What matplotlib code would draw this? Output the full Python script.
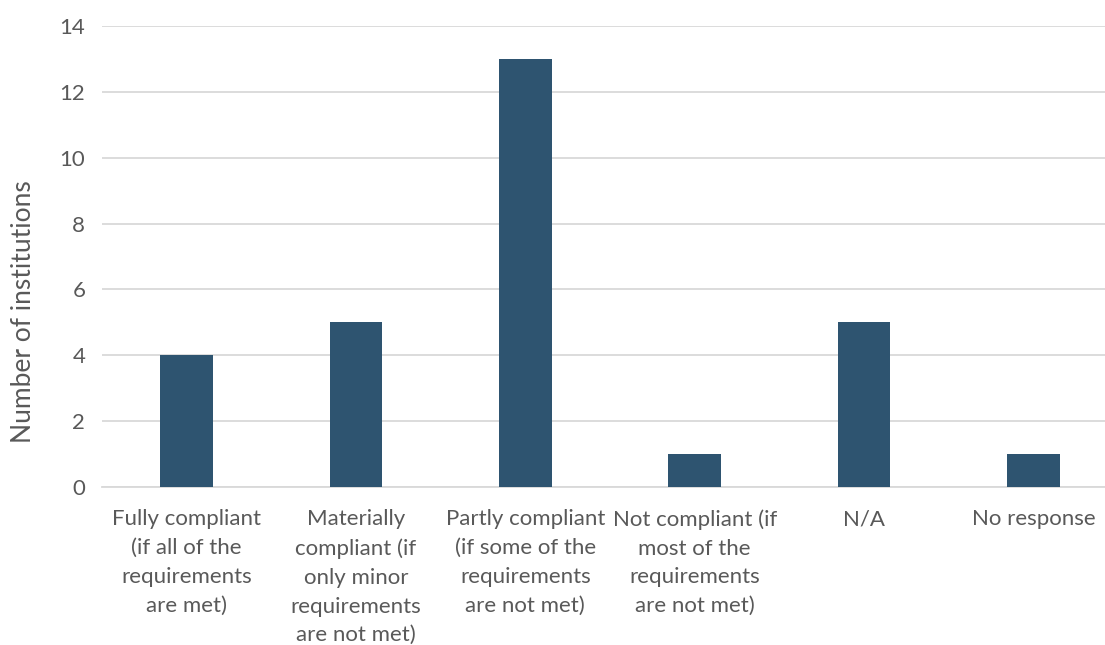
import matplotlib
matplotlib.use("Agg")
import matplotlib.pyplot as plt

categories = [
    "Fully compliant\n(if all of the\nrequirements\nare met)",
    "Materially\ncompliant (if\nonly minor\nrequirements\nare not met)",
    "Partly compliant\n(if some of the\nrequirements\nare not met)",
    "Not compliant (if\nmost of the\nrequirements\nare not met)",
    "N/A",
    "No response",
]
counts = [4, 5, 13, 1, 5, 1]
y_ticks = [0, 2, 4, 6, 8, 10, 12, 14]

text_color = "#595959"
bar_color = "#2e5470"
grid_color = "#d9d9d9"

plt.rcParams["font.family"] = ["Lato", "DejaVu Sans"]

fig = plt.figure(figsize=(11.05, 6.45), dpi=100)
W, H = 1105, 645
left, right = 102, 1118
top, bottom = 26, 487
ax = fig.add_axes([left / W, 1 - bottom / H, (right - left) / W, (bottom - top) / H])

x = range(len(categories))
ax.bar(x, counts, width=0.31, color=bar_color, zorder=3)

ax.set_xlim(-0.5, len(categories) - 0.5)
ax.set_ylim(0, 14)
ax.set_yticks(y_ticks)
ax.set_xticks(list(x))
ax.set_xticklabels(categories, linespacing=1.55)
ax.grid(axis="y", color=grid_color, linewidth=1.3, zorder=0)

for side in ["top", "right", "left"]:
    ax.spines[side].set_visible(False)
ax.spines["bottom"].set_color(grid_color)
ax.spines["bottom"].set_linewidth(1.3)

ax.tick_params(axis="both", length=0, colors=text_color, labelsize=16)
ax.tick_params(axis="y", pad=12)
ax.tick_params(axis="x", pad=16)
ax.set_ylabel("Number of institutions", fontsize=19, color=text_color)
ax.yaxis.set_label_coords(-66 / (right - left), 1 - (312 - top) / (bottom - top))

fig.savefig("out.png", dpi=100)
